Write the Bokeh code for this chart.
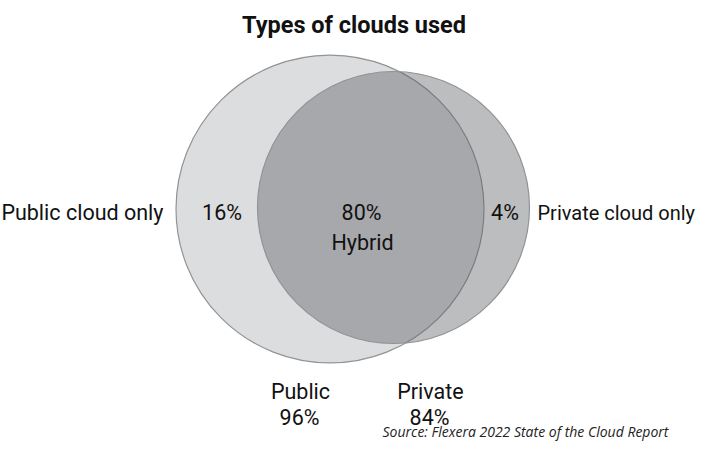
from bokeh.plotting import figure
from bokeh.models import Range1d, ColumnDataSource
from bokeh.core.properties import value
from bokeh.embed import file_html
from bokeh.resources import INLINE

# ---- data ----
title_text = "Types of clouds used"
set_names = ["Public", "Private"]
set_totals = [96, 84]
only_labels = ["Public cloud only", "Private cloud only"]
only_values = [16, 4]
hybrid_label = "Hybrid"
hybrid_value = 80
source_text = "Source: Flexera 2022 State of the Cloud Report"

# ---- layout (picture pixel coordinates) ----
W, H = 697, 442
p = figure(width=W, height=H, output_backend="svg", toolbar_location=None,
           x_range=Range1d(0, W), y_range=Range1d(H, 0),
           min_border=0, outline_line_color=None)
p.axis.visible = False
p.grid.visible = False
p.background_fill_color = "white"
p.border_fill_color = "white"

FONT = "Roboto"
TXT = "#111111"

circ = ColumnDataSource(dict(
    x=[329.5, 393], y=[208.5, 207], r=[154, 136],
    fill=["#dcdddf", "#58595d"], alpha=[1.0, 0.4],
    name=set_names, total=set_totals))
p.circle(x="x", y="y", radius="r", source=circ, fill_color="fill",
         fill_alpha="alpha", line_color="#929395", line_width=1.2)

# title
p.text(x=[353.5], y=[24], text=[title_text], text_font=value(FONT),
       text_font_style="bold", text_font_size="23.5px", text_align="center",
       text_baseline="alphabetic", text_color=TXT)

# outer labels
p.text(x=[163], y=[212], text=[only_labels[0]], text_font=value(FONT),
       text_font_size="21.5px", text_align="right",
       text_baseline="alphabetic", text_color=TXT)
p.text(x=[537], y=[212], text=[only_labels[1]], text_font=value(FONT),
       text_font_size="20px", text_align="left",
       text_baseline="alphabetic", text_color=TXT)

# region values
p.text(x=[221.5, 504.5], y=[212, 212], text=[f"{v}%" for v in only_values],
       text_font=value(FONT), text_font_size="21.5px", text_align="center",
       text_baseline="alphabetic", text_color=TXT)
p.text(x=[361, 362], y=[212, 242], text=[f"{hybrid_value}%", hybrid_label],
       text_font=value(FONT), text_font_size="21.5px", text_align="center",
       text_baseline="alphabetic", text_color=TXT)

# set totals
p.text(x=[300, 430, 299, 429], y=[391, 391, 417, 417],
       text=set_names + [f"{t}%" for t in set_totals],
       text_font=value(FONT), text_font_size="21.5px", text_align="center",
       text_baseline="alphabetic", text_color=TXT)

# source
p.text(x=[382], y=[431], text=[source_text], text_font=value("Open Sans"),
       text_font_style="italic", text_font_size="14px", text_align="left",
       text_baseline="alphabetic", text_color="#222222")

open("out.html", "w").write(file_html(p, INLINE))
